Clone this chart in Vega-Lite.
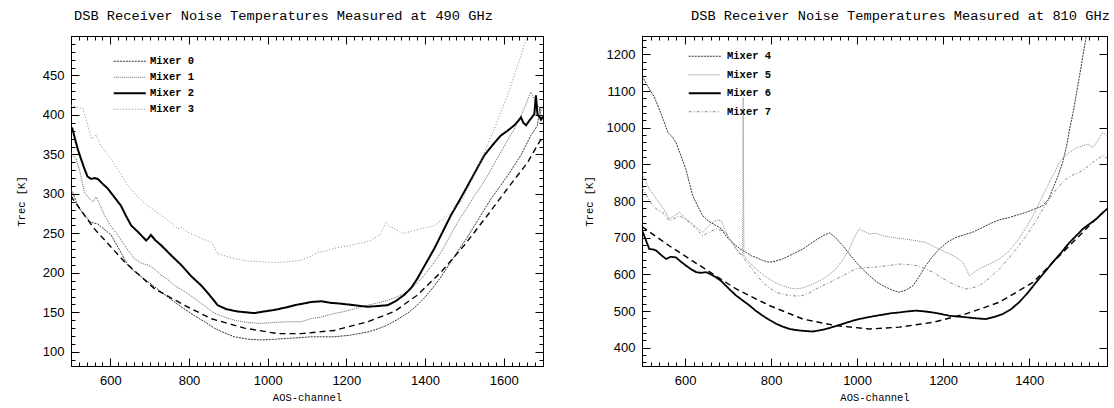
{
"$schema": "https://vega.github.io/schema/vega-lite/v6.json",
"padding": {"left": 15, "top": 8, "right": 0, "bottom": 0},
"spacing": 39,
"resolve": {"scale": {"color": "independent", "strokeDash": "independent"}, "legend": {"color": "independent", "strokeDash": "independent"}},
"config": {
  "font": "Liberation Sans",
  "view": {"stroke": "black", "strokeWidth": 1},
  "axis": {"labelColor": "black", "titleColor": "black", "labelFont": "Liberation Sans", "labelFontSize": 13, "titleFont": "Liberation Mono", "titleFontSize": 10.5, "titleFontWeight": "normal", "labelFlush": false, "labelOverlap": false},
  "legend": {"title": null, "orient": "none", "padding": 0, "symbolType": "M-16,0H16", "symbolSize": 4, "symbolOffset": 14.5, "labelFont": "Liberation Mono", "labelFontWeight": "bold", "labelFontSize": 10.5, "labelColor": "black", "labelOffset": 15, "symbolFillColor": "transparent"}
},
"datasets": {
  "m490": [
    {"mixer":"Mixer 0","ch":500,"T":305},{"mixer":"Mixer 0","ch":504,"T":302},{"mixer":"Mixer 0","ch":517,"T":285},{"mixer":"Mixer 0","ch":535,"T":272},{"mixer":"Mixer 0","ch":551,"T":264},{"mixer":"Mixer 0","ch":568,"T":262},{"mixer":"Mixer 0","ch":585,"T":255},{"mixer":"Mixer 0","ch":602,"T":248},{"mixer":"Mixer 0","ch":620,"T":232},{"mixer":"Mixer 0","ch":644,"T":210},{"mixer":"Mixer 0","ch":660,"T":202},{"mixer":"Mixer 0","ch":695,"T":189},{"mixer":"Mixer 0","ch":729,"T":176},{"mixer":"Mixer 0","ch":755,"T":166},{"mixer":"Mixer 0","ch":780,"T":157},{"mixer":"Mixer 0","ch":813,"T":146},{"mixer":"Mixer 0","ch":840,"T":138},{"mixer":"Mixer 0","ch":864,"T":130},{"mixer":"Mixer 0","ch":890,"T":124},{"mixer":"Mixer 0","ch":915,"T":119},{"mixer":"Mixer 0","ch":950,"T":116},{"mixer":"Mixer 0","ch":983,"T":115},{"mixer":"Mixer 0","ch":1020,"T":116},{"mixer":"Mixer 0","ch":1051,"T":117},{"mixer":"Mixer 0","ch":1085,"T":118},{"mixer":"Mixer 0","ch":1110,"T":119},{"mixer":"Mixer 0","ch":1169,"T":119},{"mixer":"Mixer 0","ch":1210,"T":121},{"mixer":"Mixer 0","ch":1254,"T":125},{"mixer":"Mixer 0","ch":1280,"T":129},{"mixer":"Mixer 0","ch":1305,"T":134},{"mixer":"Mixer 0","ch":1330,"T":141},{"mixer":"Mixer 0","ch":1356,"T":149},{"mixer":"Mixer 0","ch":1378,"T":158},{"mixer":"Mixer 0","ch":1398,"T":168},{"mixer":"Mixer 0","ch":1420,"T":181},{"mixer":"Mixer 0","ch":1441,"T":195},{"mixer":"Mixer 0","ch":1462,"T":211},{"mixer":"Mixer 0","ch":1483,"T":227},{"mixer":"Mixer 0","ch":1505,"T":243},{"mixer":"Mixer 0","ch":1526,"T":260},{"mixer":"Mixer 0","ch":1547,"T":277},{"mixer":"Mixer 0","ch":1568,"T":294},{"mixer":"Mixer 0","ch":1590,"T":309},{"mixer":"Mixer 0","ch":1610,"T":323},{"mixer":"Mixer 0","ch":1627,"T":336},{"mixer":"Mixer 0","ch":1644,"T":349},{"mixer":"Mixer 0","ch":1657,"T":362},{"mixer":"Mixer 0","ch":1669,"T":374},{"mixer":"Mixer 0","ch":1680,"T":382},{"mixer":"Mixer 0","ch":1686,"T":387},{"mixer":"Mixer 0","ch":1692,"T":410},{"mixer":"Mixer 0","ch":1695,"T":394},{"mixer":"Mixer 0","ch":1700,"T":400},
    {"mixer":"Mixer 1","ch":500,"T":352},{"mixer":"Mixer 1","ch":504,"T":349},{"mixer":"Mixer 1","ch":512,"T":345},{"mixer":"Mixer 1","ch":521,"T":332},{"mixer":"Mixer 1","ch":534,"T":302},{"mixer":"Mixer 1","ch":547,"T":294},{"mixer":"Mixer 1","ch":556,"T":290},{"mixer":"Mixer 1","ch":564,"T":296},{"mixer":"Mixer 1","ch":575,"T":285},{"mixer":"Mixer 1","ch":585,"T":273},{"mixer":"Mixer 1","ch":600,"T":260},{"mixer":"Mixer 1","ch":619,"T":248},{"mixer":"Mixer 1","ch":640,"T":232},{"mixer":"Mixer 1","ch":661,"T":218},{"mixer":"Mixer 1","ch":680,"T":212},{"mixer":"Mixer 1","ch":695,"T":210},{"mixer":"Mixer 1","ch":712,"T":205},{"mixer":"Mixer 1","ch":729,"T":197},{"mixer":"Mixer 1","ch":745,"T":192},{"mixer":"Mixer 1","ch":763,"T":184},{"mixer":"Mixer 1","ch":790,"T":176},{"mixer":"Mixer 1","ch":813,"T":168},{"mixer":"Mixer 1","ch":840,"T":158},{"mixer":"Mixer 1","ch":864,"T":149},{"mixer":"Mixer 1","ch":890,"T":144},{"mixer":"Mixer 1","ch":915,"T":140},{"mixer":"Mixer 1","ch":950,"T":137},{"mixer":"Mixer 1","ch":983,"T":136},{"mixer":"Mixer 1","ch":1010,"T":137},{"mixer":"Mixer 1","ch":1051,"T":138},{"mixer":"Mixer 1","ch":1085,"T":138},{"mixer":"Mixer 1","ch":1110,"T":142},{"mixer":"Mixer 1","ch":1136,"T":144},{"mixer":"Mixer 1","ch":1165,"T":148},{"mixer":"Mixer 1","ch":1195,"T":151},{"mixer":"Mixer 1","ch":1225,"T":155},{"mixer":"Mixer 1","ch":1254,"T":159},{"mixer":"Mixer 1","ch":1280,"T":162},{"mixer":"Mixer 1","ch":1305,"T":165},{"mixer":"Mixer 1","ch":1330,"T":170},{"mixer":"Mixer 1","ch":1356,"T":176},{"mixer":"Mixer 1","ch":1378,"T":186},{"mixer":"Mixer 1","ch":1398,"T":197},{"mixer":"Mixer 1","ch":1420,"T":211},{"mixer":"Mixer 1","ch":1441,"T":226},{"mixer":"Mixer 1","ch":1462,"T":245},{"mixer":"Mixer 1","ch":1483,"T":264},{"mixer":"Mixer 1","ch":1505,"T":281},{"mixer":"Mixer 1","ch":1526,"T":298},{"mixer":"Mixer 1","ch":1543,"T":310},{"mixer":"Mixer 1","ch":1559,"T":323},{"mixer":"Mixer 1","ch":1576,"T":338},{"mixer":"Mixer 1","ch":1593,"T":353},{"mixer":"Mixer 1","ch":1610,"T":368},{"mixer":"Mixer 1","ch":1627,"T":382},{"mixer":"Mixer 1","ch":1640,"T":395},{"mixer":"Mixer 1","ch":1652,"T":408},{"mixer":"Mixer 1","ch":1660,"T":418},{"mixer":"Mixer 1","ch":1669,"T":429},{"mixer":"Mixer 1","ch":1678,"T":420},{"mixer":"Mixer 1","ch":1686,"T":412},{"mixer":"Mixer 1","ch":1695,"T":405},{"mixer":"Mixer 1","ch":1700,"T":410},
    {"mixer":"Mixer 2","ch":500,"T":385},{"mixer":"Mixer 2","ch":504,"T":382},{"mixer":"Mixer 2","ch":510,"T":370},{"mixer":"Mixer 2","ch":517,"T":357},{"mixer":"Mixer 2","ch":525,"T":345},{"mixer":"Mixer 2","ch":534,"T":332},{"mixer":"Mixer 2","ch":542,"T":322},{"mixer":"Mixer 2","ch":551,"T":319},{"mixer":"Mixer 2","ch":560,"T":320},{"mixer":"Mixer 2","ch":568,"T":319},{"mixer":"Mixer 2","ch":580,"T":313},{"mixer":"Mixer 2","ch":593,"T":307},{"mixer":"Mixer 2","ch":610,"T":296},{"mixer":"Mixer 2","ch":627,"T":285},{"mixer":"Mixer 2","ch":640,"T":272},{"mixer":"Mixer 2","ch":653,"T":260},{"mixer":"Mixer 2","ch":670,"T":252},{"mixer":"Mixer 2","ch":691,"T":241},{"mixer":"Mixer 2","ch":697,"T":244},{"mixer":"Mixer 2","ch":703,"T":248},{"mixer":"Mixer 2","ch":715,"T":241},{"mixer":"Mixer 2","ch":729,"T":235},{"mixer":"Mixer 2","ch":755,"T":222},{"mixer":"Mixer 2","ch":780,"T":210},{"mixer":"Mixer 2","ch":805,"T":196},{"mixer":"Mixer 2","ch":831,"T":184},{"mixer":"Mixer 2","ch":852,"T":172},{"mixer":"Mixer 2","ch":873,"T":159},{"mixer":"Mixer 2","ch":895,"T":154},{"mixer":"Mixer 2","ch":924,"T":151},{"mixer":"Mixer 2","ch":945,"T":150},{"mixer":"Mixer 2","ch":966,"T":149},{"mixer":"Mixer 2","ch":990,"T":151},{"mixer":"Mixer 2","ch":1017,"T":153},{"mixer":"Mixer 2","ch":1045,"T":156},{"mixer":"Mixer 2","ch":1068,"T":159},{"mixer":"Mixer 2","ch":1090,"T":161},{"mixer":"Mixer 2","ch":1110,"T":163},{"mixer":"Mixer 2","ch":1136,"T":164},{"mixer":"Mixer 2","ch":1160,"T":162},{"mixer":"Mixer 2","ch":1186,"T":161},{"mixer":"Mixer 2","ch":1220,"T":159},{"mixer":"Mixer 2","ch":1254,"T":157},{"mixer":"Mixer 2","ch":1280,"T":158},{"mixer":"Mixer 2","ch":1305,"T":159},{"mixer":"Mixer 2","ch":1325,"T":164},{"mixer":"Mixer 2","ch":1347,"T":172},{"mixer":"Mixer 2","ch":1365,"T":181},{"mixer":"Mixer 2","ch":1381,"T":193},{"mixer":"Mixer 2","ch":1400,"T":210},{"mixer":"Mixer 2","ch":1424,"T":231},{"mixer":"Mixer 2","ch":1445,"T":252},{"mixer":"Mixer 2","ch":1466,"T":273},{"mixer":"Mixer 2","ch":1488,"T":292},{"mixer":"Mixer 2","ch":1509,"T":311},{"mixer":"Mixer 2","ch":1530,"T":330},{"mixer":"Mixer 2","ch":1551,"T":349},{"mixer":"Mixer 2","ch":1572,"T":362},{"mixer":"Mixer 2","ch":1593,"T":374},{"mixer":"Mixer 2","ch":1610,"T":380},{"mixer":"Mixer 2","ch":1627,"T":387},{"mixer":"Mixer 2","ch":1638,"T":393},{"mixer":"Mixer 2","ch":1644,"T":397},{"mixer":"Mixer 2","ch":1650,"T":390},{"mixer":"Mixer 2","ch":1657,"T":387},{"mixer":"Mixer 2","ch":1667,"T":394},{"mixer":"Mixer 2","ch":1678,"T":401},{"mixer":"Mixer 2","ch":1682,"T":425},{"mixer":"Mixer 2","ch":1686,"T":400},{"mixer":"Mixer 2","ch":1691,"T":398},{"mixer":"Mixer 2","ch":1695,"T":394},{"mixer":"Mixer 2","ch":1700,"T":398},
    {"mixer":"Mixer 3","ch":500,"T":412},{"mixer":"Mixer 3","ch":504,"T":412},{"mixer":"Mixer 3","ch":515,"T":410},{"mixer":"Mixer 3","ch":530,"T":408},{"mixer":"Mixer 3","ch":540,"T":392},{"mixer":"Mixer 3","ch":551,"T":370},{"mixer":"Mixer 3","ch":558,"T":372},{"mixer":"Mixer 3","ch":564,"T":375},{"mixer":"Mixer 3","ch":575,"T":362},{"mixer":"Mixer 3","ch":590,"T":352},{"mixer":"Mixer 3","ch":602,"T":344},{"mixer":"Mixer 3","ch":620,"T":330},{"mixer":"Mixer 3","ch":644,"T":311},{"mixer":"Mixer 3","ch":670,"T":296},{"mixer":"Mixer 3","ch":695,"T":285},{"mixer":"Mixer 3","ch":712,"T":279},{"mixer":"Mixer 3","ch":729,"T":273},{"mixer":"Mixer 3","ch":750,"T":265},{"mixer":"Mixer 3","ch":771,"T":256},{"mixer":"Mixer 3","ch":780,"T":258},{"mixer":"Mixer 3","ch":795,"T":252},{"mixer":"Mixer 3","ch":813,"T":248},{"mixer":"Mixer 3","ch":835,"T":243},{"mixer":"Mixer 3","ch":856,"T":239},{"mixer":"Mixer 3","ch":865,"T":232},{"mixer":"Mixer 3","ch":873,"T":224},{"mixer":"Mixer 3","ch":895,"T":221},{"mixer":"Mixer 3","ch":915,"T":218},{"mixer":"Mixer 3","ch":950,"T":215},{"mixer":"Mixer 3","ch":983,"T":214},{"mixer":"Mixer 3","ch":1015,"T":213},{"mixer":"Mixer 3","ch":1051,"T":214},{"mixer":"Mixer 3","ch":1085,"T":216},{"mixer":"Mixer 3","ch":1110,"T":221},{"mixer":"Mixer 3","ch":1127,"T":226},{"mixer":"Mixer 3","ch":1150,"T":228},{"mixer":"Mixer 3","ch":1169,"T":231},{"mixer":"Mixer 3","ch":1190,"T":233},{"mixer":"Mixer 3","ch":1212,"T":235},{"mixer":"Mixer 3","ch":1240,"T":238},{"mixer":"Mixer 3","ch":1262,"T":241},{"mixer":"Mixer 3","ch":1284,"T":248},{"mixer":"Mixer 3","ch":1293,"T":256},{"mixer":"Mixer 3","ch":1301,"T":264},{"mixer":"Mixer 3","ch":1312,"T":258},{"mixer":"Mixer 3","ch":1322,"T":256},{"mixer":"Mixer 3","ch":1335,"T":252},{"mixer":"Mixer 3","ch":1347,"T":250},{"mixer":"Mixer 3","ch":1368,"T":253},{"mixer":"Mixer 3","ch":1390,"T":256},{"mixer":"Mixer 3","ch":1410,"T":258},{"mixer":"Mixer 3","ch":1424,"T":260},{"mixer":"Mixer 3","ch":1440,"T":266},{"mixer":"Mixer 3","ch":1458,"T":273},{"mixer":"Mixer 3","ch":1475,"T":281},{"mixer":"Mixer 3","ch":1492,"T":290},{"mixer":"Mixer 3","ch":1510,"T":308},{"mixer":"Mixer 3","ch":1534,"T":332},{"mixer":"Mixer 3","ch":1555,"T":357},{"mixer":"Mixer 3","ch":1576,"T":382},{"mixer":"Mixer 3","ch":1593,"T":404},{"mixer":"Mixer 3","ch":1610,"T":425},{"mixer":"Mixer 3","ch":1627,"T":450},{"mixer":"Mixer 3","ch":1644,"T":475},{"mixer":"Mixer 3","ch":1652,"T":488},{"mixer":"Mixer 3","ch":1661,"T":500},{"mixer":"Mixer 3","ch":1670,"T":515}
  ],
  "f490": [
    {"ch":500,"T":298},{"ch":504,"T":294},{"ch":559,"T":256},{"ch":636,"T":214},{"ch":712,"T":180},{"ch":788,"T":159},{"ch":856,"T":142},{"ch":941,"T":130},{"ch":1025,"T":123},{"ch":1085,"T":123},{"ch":1169,"T":127},{"ch":1254,"T":138},{"ch":1322,"T":151},{"ch":1381,"T":172},{"ch":1441,"T":201},{"ch":1500,"T":235},{"ch":1559,"T":273},{"ch":1610,"T":307},{"ch":1661,"T":340},{"ch":1691,"T":366},{"ch":1700,"T":372}
  ],
  "m810": [
    {"mixer":"Mixer 4","ch":500,"T":1140},{"mixer":"Mixer 4","ch":502,"T":1137},{"mixer":"Mixer 4","ch":510,"T":1120},{"mixer":"Mixer 4","ch":517,"T":1105},{"mixer":"Mixer 4","ch":528,"T":1085},{"mixer":"Mixer 4","ch":540,"T":1051},{"mixer":"Mixer 4","ch":550,"T":1020},{"mixer":"Mixer 4","ch":560,"T":987},{"mixer":"Mixer 4","ch":570,"T":975},{"mixer":"Mixer 4","ch":579,"T":960},{"mixer":"Mixer 4","ch":590,"T":925},{"mixer":"Mixer 4","ch":602,"T":887},{"mixer":"Mixer 4","ch":610,"T":850},{"mixer":"Mixer 4","ch":618,"T":814},{"mixer":"Mixer 4","ch":630,"T":785},{"mixer":"Mixer 4","ch":641,"T":760},{"mixer":"Mixer 4","ch":655,"T":745},{"mixer":"Mixer 4","ch":672,"T":733},{"mixer":"Mixer 4","ch":684,"T":725},{"mixer":"Mixer 4","ch":695,"T":705},{"mixer":"Mixer 4","ch":707,"T":690},{"mixer":"Mixer 4","ch":719,"T":678},{"mixer":"Mixer 4","ch":730,"T":668},{"mixer":"Mixer 4","ch":742,"T":660},{"mixer":"Mixer 4","ch":755,"T":650},{"mixer":"Mixer 4","ch":765,"T":646},{"mixer":"Mixer 4","ch":780,"T":638},{"mixer":"Mixer 4","ch":796,"T":633},{"mixer":"Mixer 4","ch":810,"T":636},{"mixer":"Mixer 4","ch":827,"T":642},{"mixer":"Mixer 4","ch":850,"T":655},{"mixer":"Mixer 4","ch":874,"T":669},{"mixer":"Mixer 4","ch":897,"T":688},{"mixer":"Mixer 4","ch":920,"T":705},{"mixer":"Mixer 4","ch":936,"T":713},{"mixer":"Mixer 4","ch":950,"T":700},{"mixer":"Mixer 4","ch":967,"T":678},{"mixer":"Mixer 4","ch":982,"T":655},{"mixer":"Mixer 4","ch":998,"T":633},{"mixer":"Mixer 4","ch":1013,"T":614},{"mixer":"Mixer 4","ch":1029,"T":596},{"mixer":"Mixer 4","ch":1045,"T":580},{"mixer":"Mixer 4","ch":1060,"T":569},{"mixer":"Mixer 4","ch":1080,"T":558},{"mixer":"Mixer 4","ch":1098,"T":551},{"mixer":"Mixer 4","ch":1115,"T":558},{"mixer":"Mixer 4","ch":1130,"T":569},{"mixer":"Mixer 4","ch":1145,"T":595},{"mixer":"Mixer 4","ch":1160,"T":624},{"mixer":"Mixer 4","ch":1175,"T":648},{"mixer":"Mixer 4","ch":1191,"T":669},{"mixer":"Mixer 4","ch":1210,"T":688},{"mixer":"Mixer 4","ch":1230,"T":701},{"mixer":"Mixer 4","ch":1250,"T":708},{"mixer":"Mixer 4","ch":1269,"T":715},{"mixer":"Mixer 4","ch":1292,"T":728},{"mixer":"Mixer 4","ch":1316,"T":742},{"mixer":"Mixer 4","ch":1335,"T":750},{"mixer":"Mixer 4","ch":1354,"T":755},{"mixer":"Mixer 4","ch":1373,"T":762},{"mixer":"Mixer 4","ch":1393,"T":769},{"mixer":"Mixer 4","ch":1412,"T":778},{"mixer":"Mixer 4","ch":1432,"T":787},{"mixer":"Mixer 4","ch":1445,"T":805},{"mixer":"Mixer 4","ch":1455,"T":833},{"mixer":"Mixer 4","ch":1467,"T":868},{"mixer":"Mixer 4","ch":1478,"T":906},{"mixer":"Mixer 4","ch":1487,"T":950},{"mixer":"Mixer 4","ch":1494,"T":996},{"mixer":"Mixer 4","ch":1502,"T":1040},{"mixer":"Mixer 4","ch":1509,"T":1087},{"mixer":"Mixer 4","ch":1517,"T":1140},{"mixer":"Mixer 4","ch":1525,"T":1196},{"mixer":"Mixer 4","ch":1533,"T":1251},{"mixer":"Mixer 4","ch":1540,"T":1300},
    {"mixer":"Mixer 5","ch":500,"T":872},{"mixer":"Mixer 5","ch":502,"T":869},{"mixer":"Mixer 5","ch":510,"T":850},{"mixer":"Mixer 5","ch":517,"T":833},{"mixer":"Mixer 5","ch":528,"T":815},{"mixer":"Mixer 5","ch":540,"T":796},{"mixer":"Mixer 5","ch":552,"T":775},{"mixer":"Mixer 5","ch":563,"T":751},{"mixer":"Mixer 5","ch":575,"T":760},{"mixer":"Mixer 5","ch":587,"T":769},{"mixer":"Mixer 5","ch":602,"T":752},{"mixer":"Mixer 5","ch":618,"T":737},{"mixer":"Mixer 5","ch":630,"T":725},{"mixer":"Mixer 5","ch":641,"T":715},{"mixer":"Mixer 5","ch":652,"T":728},{"mixer":"Mixer 5","ch":664,"T":742},{"mixer":"Mixer 5","ch":675,"T":748},{"mixer":"Mixer 5","ch":684,"T":746},{"mixer":"Mixer 5","ch":693,"T":720},{"mixer":"Mixer 5","ch":703,"T":696},{"mixer":"Mixer 5","ch":718,"T":672},{"mixer":"Mixer 5","ch":734,"T":651},{"mixer":"Mixer 5","ch":735,"T":1081},{"mixer":"Mixer 5","ch":737,"T":650},{"mixer":"Mixer 5","ch":750,"T":632},{"mixer":"Mixer 5","ch":765,"T":615},{"mixer":"Mixer 5","ch":780,"T":600},{"mixer":"Mixer 5","ch":796,"T":587},{"mixer":"Mixer 5","ch":812,"T":576},{"mixer":"Mixer 5","ch":827,"T":569},{"mixer":"Mixer 5","ch":843,"T":563},{"mixer":"Mixer 5","ch":858,"T":560},{"mixer":"Mixer 5","ch":874,"T":563},{"mixer":"Mixer 5","ch":889,"T":569},{"mixer":"Mixer 5","ch":905,"T":578},{"mixer":"Mixer 5","ch":920,"T":587},{"mixer":"Mixer 5","ch":936,"T":600},{"mixer":"Mixer 5","ch":951,"T":615},{"mixer":"Mixer 5","ch":967,"T":640},{"mixer":"Mixer 5","ch":982,"T":669},{"mixer":"Mixer 5","ch":993,"T":700},{"mixer":"Mixer 5","ch":1005,"T":724},{"mixer":"Mixer 5","ch":1015,"T":718},{"mixer":"Mixer 5","ch":1029,"T":710},{"mixer":"Mixer 5","ch":1045,"T":712},{"mixer":"Mixer 5","ch":1060,"T":705},{"mixer":"Mixer 5","ch":1087,"T":700},{"mixer":"Mixer 5","ch":1114,"T":696},{"mixer":"Mixer 5","ch":1137,"T":692},{"mixer":"Mixer 5","ch":1160,"T":687},{"mixer":"Mixer 5","ch":1185,"T":672},{"mixer":"Mixer 5","ch":1207,"T":660},{"mixer":"Mixer 5","ch":1228,"T":648},{"mixer":"Mixer 5","ch":1246,"T":633},{"mixer":"Mixer 5","ch":1255,"T":612},{"mixer":"Mixer 5","ch":1261,"T":596},{"mixer":"Mixer 5","ch":1272,"T":605},{"mixer":"Mixer 5","ch":1284,"T":615},{"mixer":"Mixer 5","ch":1308,"T":628},{"mixer":"Mixer 5","ch":1331,"T":642},{"mixer":"Mixer 5","ch":1350,"T":660},{"mixer":"Mixer 5","ch":1370,"T":687},{"mixer":"Mixer 5","ch":1390,"T":722},{"mixer":"Mixer 5","ch":1409,"T":760},{"mixer":"Mixer 5","ch":1428,"T":805},{"mixer":"Mixer 5","ch":1447,"T":851},{"mixer":"Mixer 5","ch":1460,"T":880},{"mixer":"Mixer 5","ch":1470,"T":906},{"mixer":"Mixer 5","ch":1482,"T":922},{"mixer":"Mixer 5","ch":1494,"T":933},{"mixer":"Mixer 5","ch":1510,"T":945},{"mixer":"Mixer 5","ch":1525,"T":951},{"mixer":"Mixer 5","ch":1537,"T":955},{"mixer":"Mixer 5","ch":1548,"T":946},{"mixer":"Mixer 5","ch":1560,"T":965},{"mixer":"Mixer 5","ch":1571,"T":987},{"mixer":"Mixer 5","ch":1579,"T":980},{"mixer":"Mixer 5","ch":1586,"T":978},
    {"mixer":"Mixer 6","ch":500,"T":718},{"mixer":"Mixer 6","ch":502,"T":715},{"mixer":"Mixer 6","ch":510,"T":690},{"mixer":"Mixer 6","ch":517,"T":669},{"mixer":"Mixer 6","ch":525,"T":668},{"mixer":"Mixer 6","ch":533,"T":665},{"mixer":"Mixer 6","ch":545,"T":652},{"mixer":"Mixer 6","ch":556,"T":642},{"mixer":"Mixer 6","ch":567,"T":648},{"mixer":"Mixer 6","ch":579,"T":646},{"mixer":"Mixer 6","ch":590,"T":635},{"mixer":"Mixer 6","ch":602,"T":624},{"mixer":"Mixer 6","ch":614,"T":614},{"mixer":"Mixer 6","ch":626,"T":606},{"mixer":"Mixer 6","ch":637,"T":604},{"mixer":"Mixer 6","ch":649,"T":606},{"mixer":"Mixer 6","ch":660,"T":600},{"mixer":"Mixer 6","ch":672,"T":592},{"mixer":"Mixer 6","ch":684,"T":582},{"mixer":"Mixer 6","ch":695,"T":569},{"mixer":"Mixer 6","ch":707,"T":555},{"mixer":"Mixer 6","ch":719,"T":542},{"mixer":"Mixer 6","ch":735,"T":528},{"mixer":"Mixer 6","ch":750,"T":515},{"mixer":"Mixer 6","ch":765,"T":500},{"mixer":"Mixer 6","ch":781,"T":487},{"mixer":"Mixer 6","ch":797,"T":475},{"mixer":"Mixer 6","ch":812,"T":465},{"mixer":"Mixer 6","ch":828,"T":457},{"mixer":"Mixer 6","ch":843,"T":451},{"mixer":"Mixer 6","ch":858,"T":448},{"mixer":"Mixer 6","ch":874,"T":446},{"mixer":"Mixer 6","ch":885,"T":445},{"mixer":"Mixer 6","ch":897,"T":444},{"mixer":"Mixer 6","ch":912,"T":447},{"mixer":"Mixer 6","ch":928,"T":451},{"mixer":"Mixer 6","ch":948,"T":458},{"mixer":"Mixer 6","ch":967,"T":465},{"mixer":"Mixer 6","ch":986,"T":472},{"mixer":"Mixer 6","ch":1005,"T":478},{"mixer":"Mixer 6","ch":1021,"T":482},{"mixer":"Mixer 6","ch":1044,"T":487},{"mixer":"Mixer 6","ch":1060,"T":490},{"mixer":"Mixer 6","ch":1080,"T":494},{"mixer":"Mixer 6","ch":1098,"T":496},{"mixer":"Mixer 6","ch":1118,"T":499},{"mixer":"Mixer 6","ch":1137,"T":501},{"mixer":"Mixer 6","ch":1156,"T":499},{"mixer":"Mixer 6","ch":1176,"T":496},{"mixer":"Mixer 6","ch":1195,"T":492},{"mixer":"Mixer 6","ch":1215,"T":487},{"mixer":"Mixer 6","ch":1234,"T":485},{"mixer":"Mixer 6","ch":1253,"T":483},{"mixer":"Mixer 6","ch":1277,"T":480},{"mixer":"Mixer 6","ch":1300,"T":478},{"mixer":"Mixer 6","ch":1320,"T":484},{"mixer":"Mixer 6","ch":1339,"T":492},{"mixer":"Mixer 6","ch":1358,"T":505},{"mixer":"Mixer 6","ch":1377,"T":524},{"mixer":"Mixer 6","ch":1397,"T":550},{"mixer":"Mixer 6","ch":1416,"T":578},{"mixer":"Mixer 6","ch":1436,"T":606},{"mixer":"Mixer 6","ch":1455,"T":633},{"mixer":"Mixer 6","ch":1475,"T":660},{"mixer":"Mixer 6","ch":1494,"T":687},{"mixer":"Mixer 6","ch":1510,"T":706},{"mixer":"Mixer 6","ch":1525,"T":724},{"mixer":"Mixer 6","ch":1541,"T":738},{"mixer":"Mixer 6","ch":1556,"T":751},{"mixer":"Mixer 6","ch":1571,"T":768},{"mixer":"Mixer 6","ch":1586,"T":783},
    {"mixer":"Mixer 7","ch":500,"T":836},{"mixer":"Mixer 7","ch":502,"T":833},{"mixer":"Mixer 7","ch":513,"T":810},{"mixer":"Mixer 7","ch":525,"T":787},{"mixer":"Mixer 7","ch":537,"T":775},{"mixer":"Mixer 7","ch":548,"T":769},{"mixer":"Mixer 7","ch":563,"T":746},{"mixer":"Mixer 7","ch":575,"T":752},{"mixer":"Mixer 7","ch":587,"T":760},{"mixer":"Mixer 7","ch":598,"T":752},{"mixer":"Mixer 7","ch":610,"T":742},{"mixer":"Mixer 7","ch":625,"T":725},{"mixer":"Mixer 7","ch":641,"T":705},{"mixer":"Mixer 7","ch":656,"T":715},{"mixer":"Mixer 7","ch":672,"T":724},{"mixer":"Mixer 7","ch":684,"T":720},{"mixer":"Mixer 7","ch":695,"T":715},{"mixer":"Mixer 7","ch":707,"T":692},{"mixer":"Mixer 7","ch":719,"T":669},{"mixer":"Mixer 7","ch":735,"T":646},{"mixer":"Mixer 7","ch":750,"T":624},{"mixer":"Mixer 7","ch":765,"T":600},{"mixer":"Mixer 7","ch":781,"T":578},{"mixer":"Mixer 7","ch":796,"T":563},{"mixer":"Mixer 7","ch":812,"T":551},{"mixer":"Mixer 7","ch":827,"T":546},{"mixer":"Mixer 7","ch":843,"T":542},{"mixer":"Mixer 7","ch":858,"T":541},{"mixer":"Mixer 7","ch":874,"T":542},{"mixer":"Mixer 7","ch":890,"T":550},{"mixer":"Mixer 7","ch":905,"T":560},{"mixer":"Mixer 7","ch":920,"T":569},{"mixer":"Mixer 7","ch":936,"T":578},{"mixer":"Mixer 7","ch":951,"T":587},{"mixer":"Mixer 7","ch":967,"T":596},{"mixer":"Mixer 7","ch":982,"T":606},{"mixer":"Mixer 7","ch":998,"T":615},{"mixer":"Mixer 7","ch":1014,"T":618},{"mixer":"Mixer 7","ch":1029,"T":619},{"mixer":"Mixer 7","ch":1045,"T":620},{"mixer":"Mixer 7","ch":1060,"T":622},{"mixer":"Mixer 7","ch":1080,"T":625},{"mixer":"Mixer 7","ch":1098,"T":628},{"mixer":"Mixer 7","ch":1118,"T":627},{"mixer":"Mixer 7","ch":1137,"T":624},{"mixer":"Mixer 7","ch":1157,"T":616},{"mixer":"Mixer 7","ch":1176,"T":606},{"mixer":"Mixer 7","ch":1195,"T":592},{"mixer":"Mixer 7","ch":1215,"T":578},{"mixer":"Mixer 7","ch":1234,"T":568},{"mixer":"Mixer 7","ch":1253,"T":560},{"mixer":"Mixer 7","ch":1268,"T":563},{"mixer":"Mixer 7","ch":1284,"T":569},{"mixer":"Mixer 7","ch":1308,"T":590},{"mixer":"Mixer 7","ch":1331,"T":615},{"mixer":"Mixer 7","ch":1350,"T":640},{"mixer":"Mixer 7","ch":1370,"T":669},{"mixer":"Mixer 7","ch":1390,"T":700},{"mixer":"Mixer 7","ch":1409,"T":733},{"mixer":"Mixer 7","ch":1428,"T":770},{"mixer":"Mixer 7","ch":1447,"T":806},{"mixer":"Mixer 7","ch":1466,"T":836},{"mixer":"Mixer 7","ch":1486,"T":860},{"mixer":"Mixer 7","ch":1500,"T":870},{"mixer":"Mixer 7","ch":1517,"T":878},{"mixer":"Mixer 7","ch":1532,"T":890},{"mixer":"Mixer 7","ch":1548,"T":906},{"mixer":"Mixer 7","ch":1560,"T":915},{"mixer":"Mixer 7","ch":1571,"T":924},{"mixer":"Mixer 7","ch":1579,"T":918},{"mixer":"Mixer 7","ch":1586,"T":915}
  ],
  "f810": [
    {"ch":500,"T":730},{"ch":563,"T":678},{"ch":641,"T":619},{"ch":719,"T":560},{"ch":796,"T":515},{"ch":874,"T":478},{"ch":951,"T":460},{"ch":1029,"T":451},{"ch":1098,"T":456},{"ch":1176,"T":469},{"ch":1253,"T":492},{"ch":1331,"T":524},{"ch":1409,"T":578},{"ch":1486,"T":669},{"ch":1563,"T":760},{"ch":1586,"T":783}
  ]
},
"hconcat": [
  {
    "width": 472, "height": 330,
    "title": {"text": "DSB Receiver Noise Temperatures Measured at 490 GHz", "anchor": "start", "frame": "group", "dx": 3, "offset": 13, "font": "Liberation Mono", "fontSize": 13.7, "fontWeight": "normal", "color": "black"},
    "resolve": {"scale": {"x": "independent", "y": "independent"}, "axis": {"x": "independent", "y": "independent"}},
    "layer": [
      {
        "data": {"name": "m490"},
        "mark": {"type": "line", "clip": true},
        "encoding": {
          "x": {"field": "ch", "type": "quantitative", "scale": {"domain": [500, 1700], "nice": false, "zero": false}, "axis": null},
          "y": {"field": "T", "type": "quantitative", "scale": {"domain": [82, 500], "nice": false, "zero": false}, "axis": null},
          "color": {"field": "mixer", "type": "nominal", "scale": {"domain": ["Mixer 0", "Mixer 1", "Mixer 2", "Mixer 3"], "range": ["#333333", "#666666", "#000000", "#8a8a8a"]},
                    "legend": {"legendX": 39, "legendY": 20, "rowPadding": 5, "encode": {"symbols": {"update": {"strokeWidth": {"signal": "datum.value === 'Mixer 2' ? 2 : 1"}}}}}},
          "strokeDash": {"field": "mixer", "type": "nominal", "scale": {"domain": ["Mixer 0", "Mixer 1", "Mixer 2", "Mixer 3"], "range": [[2, 1], [1, 1], [1, 0], [1, 2]]},
                    "legend": {"legendX": 39, "legendY": 20, "rowPadding": 5, "encode": {"symbols": {"update": {"strokeWidth": {"signal": "datum.value === 'Mixer 2' ? 2 : 1"}}}}}},
          "strokeWidth": {"condition": {"test": "datum.mixer === 'Mixer 2'", "value": 2}, "value": 1}
        }
      },
      {
        "data": {"name": "f490"},
        "mark": {"type": "line", "clip": true, "color": "black", "strokeDash": [6, 4], "strokeWidth": 1.4},
        "encoding": {
          "x": {"field": "ch", "type": "quantitative", "scale": {"domain": [500, 1700], "nice": false, "zero": false},
                "axis": {"orient": "bottom", "values": [600, 800, 1000, 1200, 1400, 1600], "format": "d", "ticks": false, "grid": false, "domain": false, "labelPadding": 8, "title": "AOS-channel", "titlePadding": 5}},
          "y": {"field": "T", "type": "quantitative", "scale": {"domain": [82, 500], "nice": false, "zero": false},
                "axis": {"orient": "left", "values": [100, 150, 200, 250, 300, 350, 400, 450], "format": "d", "ticks": false, "grid": false, "domain": false, "labelPadding": 7, "title": "Trec [K]", "titlePadding": 16}}
        }
      },
      {
        "data": {"name": "f490"},
        "mark": {"type": "line", "opacity": 0},
        "encoding": {
          "x": {"field": "ch", "type": "quantitative", "scale": {"domain": [500, 1700], "nice": false, "zero": false},
                "axis": {"orient": "bottom", "values": [600, 800, 1000, 1200, 1400, 1600], "ticks": true, "tickSize": -8, "tickColor": "black", "tickWidth": 1, "labels": false, "grid": false, "domain": true, "domainColor": "black", "domainWidth": 1, "title": null}},
          "y": {"field": "T", "type": "quantitative", "scale": {"domain": [82, 500], "nice": false, "zero": false},
                "axis": {"orient": "left", "values": [100, 150, 200, 250, 300, 350, 400, 450], "ticks": true, "tickSize": -8, "tickColor": "black", "tickWidth": 1, "labels": false, "grid": false, "domain": true, "domainColor": "black", "domainWidth": 1, "title": null}}
        }
      },
      {
        "data": {"name": "f490"},
        "mark": {"type": "line", "opacity": 0},
        "encoding": {
          "x": {"field": "ch", "type": "quantitative", "scale": {"domain": [500, 1700], "nice": false, "zero": false},
                "axis": {"orient": "bottom", "values": [520,540,560,580,620,640,660,680,700,720,740,760,780,820,840,860,880,900,920,940,960,980,1020,1040,1060,1080,1100,1120,1140,1160,1180,1220,1240,1260,1280,1300,1320,1340,1360,1380,1420,1440,1460,1480,1500,1520,1540,1560,1580,1620,1640,1660,1680], "ticks": true, "tickSize": -4, "tickColor": "black", "tickWidth": 1, "labels": false, "grid": false, "domain": true, "domainColor": "black", "domainWidth": 1, "title": null}},
          "y": {"field": "T", "type": "quantitative", "scale": {"domain": [82, 500], "nice": false, "zero": false},
                "axis": {"orient": "left", "values": [90,110,120,130,140,160,170,180,190,210,220,230,240,260,270,280,290,310,320,330,340,360,370,380,390,410,420,430,440,460,470,480,490], "ticks": true, "tickSize": -4, "tickColor": "black", "tickWidth": 1, "labels": false, "grid": false, "domain": true, "domainColor": "black", "domainWidth": 1, "title": null}}
        }
      },
      {
        "data": {"name": "f490"},
        "mark": {"type": "line", "opacity": 0},
        "encoding": {
          "x": {"field": "ch", "type": "quantitative", "scale": {"domain": [500, 1700], "nice": false, "zero": false},
                "axis": {"orient": "top", "values": [600, 800, 1000, 1200, 1400, 1600], "ticks": true, "tickSize": -8, "tickColor": "black", "tickWidth": 1, "labels": false, "grid": false, "domain": true, "domainColor": "black", "domainWidth": 1, "title": null}},
          "y": {"field": "T", "type": "quantitative", "scale": {"domain": [82, 500], "nice": false, "zero": false},
                "axis": {"orient": "right", "values": [100, 150, 200, 250, 300, 350, 400, 450], "ticks": true, "tickSize": -8, "tickColor": "black", "tickWidth": 1, "labels": false, "grid": false, "domain": true, "domainColor": "black", "domainWidth": 1, "title": null}}
        }
      },
      {
        "data": {"name": "f490"},
        "mark": {"type": "line", "opacity": 0},
        "encoding": {
          "x": {"field": "ch", "type": "quantitative", "scale": {"domain": [500, 1700], "nice": false, "zero": false},
                "axis": {"orient": "top", "values": [520,540,560,580,620,640,660,680,700,720,740,760,780,820,840,860,880,900,920,940,960,980,1020,1040,1060,1080,1100,1120,1140,1160,1180,1220,1240,1260,1280,1300,1320,1340,1360,1380,1420,1440,1460,1480,1500,1520,1540,1560,1580,1620,1640,1660,1680], "ticks": true, "tickSize": -4, "tickColor": "black", "tickWidth": 1, "labels": false, "grid": false, "domain": true, "domainColor": "black", "domainWidth": 1, "title": null}},
          "y": {"field": "T", "type": "quantitative", "scale": {"domain": [82, 500], "nice": false, "zero": false},
                "axis": {"orient": "right", "values": [90,110,120,130,140,160,170,180,190,210,220,230,240,260,270,280,290,310,320,330,340,360,370,380,390,410,420,430,440,460,470,480,490], "ticks": true, "tickSize": -4, "tickColor": "black", "tickWidth": 1, "labels": false, "grid": false, "domain": true, "domainColor": "black", "domainWidth": 1, "title": null}}
        }
      }
    ]
  },
  {
    "width": 465, "height": 330,
    "title": {"text": "DSB Receiver Noise Temperatures Measured at 810 GHz", "anchor": "start", "frame": "group", "dx": 49, "offset": 13, "font": "Liberation Mono", "fontSize": 13.7, "fontWeight": "normal", "color": "black"},
    "resolve": {"scale": {"x": "independent", "y": "independent"}, "axis": {"x": "independent", "y": "independent"}},
    "layer": [
      {
        "data": {"name": "m810"},
        "mark": {"type": "line", "clip": true},
        "encoding": {
          "x": {"field": "ch", "type": "quantitative", "scale": {"domain": [500, 1581], "nice": false, "zero": false}, "axis": null},
          "y": {"field": "T", "type": "quantitative", "scale": {"domain": [350, 1250], "nice": false, "zero": false}, "axis": null},
          "color": {"field": "mixer", "type": "nominal", "scale": {"domain": ["Mixer 4", "Mixer 5", "Mixer 6", "Mixer 7"], "range": ["#333333", "#8a8a8a", "#000000", "#8a8a8a"]},
                    "legend": {"legendX": 43, "legendY": 15, "rowPadding": 7.5, "labelOffset": 17, "encode": {"symbols": {"update": {"strokeWidth": {"signal": "datum.value === 'Mixer 6' ? 1.8 : 1"}}}}}},
          "strokeDash": {"field": "mixer", "type": "nominal", "scale": {"domain": ["Mixer 4", "Mixer 5", "Mixer 6", "Mixer 7"], "range": [[2, 1], [1, 1], [1, 0], [3, 2, 1, 2]]},
                    "legend": {"legendX": 43, "legendY": 15, "rowPadding": 7.5, "labelOffset": 17, "encode": {"symbols": {"update": {"strokeWidth": {"signal": "datum.value === 'Mixer 6' ? 1.8 : 1"}}}}}},
          "strokeWidth": {"condition": {"test": "datum.mixer === 'Mixer 6'", "value": 1.8}, "value": 1}
        }
      },
      {
        "data": {"name": "f810"},
        "mark": {"type": "line", "clip": true, "color": "black", "strokeDash": [6, 4], "strokeWidth": 1.4},
        "encoding": {
          "x": {"field": "ch", "type": "quantitative", "scale": {"domain": [500, 1581], "nice": false, "zero": false},
                "axis": {"orient": "bottom", "values": [600, 800, 1000, 1200, 1400], "format": "d", "ticks": false, "grid": false, "domain": false, "labelPadding": 8, "title": "AOS-channel", "titlePadding": 5}},
          "y": {"field": "T", "type": "quantitative", "scale": {"domain": [350, 1250], "nice": false, "zero": false},
                "axis": {"orient": "left", "values": [400, 500, 600, 700, 800, 900, 1000, 1100, 1200], "format": "d", "ticks": false, "grid": false, "domain": false, "labelPadding": 7, "title": "Trec [K]", "titlePadding": 12}}
        }
      },
      {
        "data": {"name": "f810"},
        "mark": {"type": "line", "opacity": 0},
        "encoding": {
          "x": {"field": "ch", "type": "quantitative", "scale": {"domain": [500, 1581], "nice": false, "zero": false},
                "axis": {"orient": "bottom", "values": [600, 800, 1000, 1200, 1400], "ticks": true, "tickSize": -8, "tickColor": "black", "tickWidth": 1, "labels": false, "grid": false, "domain": true, "domainColor": "black", "domainWidth": 1, "title": null}},
          "y": {"field": "T", "type": "quantitative", "scale": {"domain": [350, 1250], "nice": false, "zero": false},
                "axis": {"orient": "left", "values": [400, 500, 600, 700, 800, 900, 1000, 1100, 1200], "ticks": true, "tickSize": -8, "tickColor": "black", "tickWidth": 1, "labels": false, "grid": false, "domain": true, "domainColor": "black", "domainWidth": 1, "title": null}}
        }
      },
      {
        "data": {"name": "f810"},
        "mark": {"type": "line", "opacity": 0},
        "encoding": {
          "x": {"field": "ch", "type": "quantitative", "scale": {"domain": [500, 1581], "nice": false, "zero": false},
                "axis": {"orient": "bottom", "values": [520,540,560,580,620,640,660,680,700,720,740,760,780,820,840,860,880,900,920,940,960,980,1020,1040,1060,1080,1100,1120,1140,1160,1180,1220,1240,1260,1280,1300,1320,1340,1360,1380,1420,1440,1460,1480,1500,1520,1540,1560,1580], "ticks": true, "tickSize": -4, "tickColor": "black", "tickWidth": 1, "labels": false, "grid": false, "domain": true, "domainColor": "black", "domainWidth": 1, "title": null}},
          "y": {"field": "T", "type": "quantitative", "scale": {"domain": [350, 1250], "nice": false, "zero": false},
                "axis": {"orient": "left", "values": [360,380,420,440,460,480,520,540,560,580,620,640,660,680,720,740,760,780,820,840,860,880,920,940,960,980,1020,1040,1060,1080,1120,1140,1160,1180,1220,1240], "ticks": true, "tickSize": -4, "tickColor": "black", "tickWidth": 1, "labels": false, "grid": false, "domain": true, "domainColor": "black", "domainWidth": 1, "title": null}}
        }
      },
      {
        "data": {"name": "f810"},
        "mark": {"type": "line", "opacity": 0},
        "encoding": {
          "x": {"field": "ch", "type": "quantitative", "scale": {"domain": [500, 1581], "nice": false, "zero": false},
                "axis": {"orient": "top", "values": [600, 800, 1000, 1200, 1400], "ticks": true, "tickSize": -8, "tickColor": "black", "tickWidth": 1, "labels": false, "grid": false, "domain": true, "domainColor": "black", "domainWidth": 1, "title": null}},
          "y": {"field": "T", "type": "quantitative", "scale": {"domain": [350, 1250], "nice": false, "zero": false},
                "axis": {"orient": "right", "values": [400, 500, 600, 700, 800, 900, 1000, 1100, 1200], "ticks": true, "tickSize": -8, "tickColor": "black", "tickWidth": 1, "labels": false, "grid": false, "domain": true, "domainColor": "black", "domainWidth": 1, "title": null}}
        }
      },
      {
        "data": {"name": "f810"},
        "mark": {"type": "line", "opacity": 0},
        "encoding": {
          "x": {"field": "ch", "type": "quantitative", "scale": {"domain": [500, 1581], "nice": false, "zero": false},
                "axis": {"orient": "top", "values": [520,540,560,580,620,640,660,680,700,720,740,760,780,820,840,860,880,900,920,940,960,980,1020,1040,1060,1080,1100,1120,1140,1160,1180,1220,1240,1260,1280,1300,1320,1340,1360,1380,1420,1440,1460,1480,1500,1520,1540,1560,1580], "ticks": true, "tickSize": -4, "tickColor": "black", "tickWidth": 1, "labels": false, "grid": false, "domain": true, "domainColor": "black", "domainWidth": 1, "title": null}},
          "y": {"field": "T", "type": "quantitative", "scale": {"domain": [350, 1250], "nice": false, "zero": false}, "axis": null}
        }
      }
    ]
  }
]
}
